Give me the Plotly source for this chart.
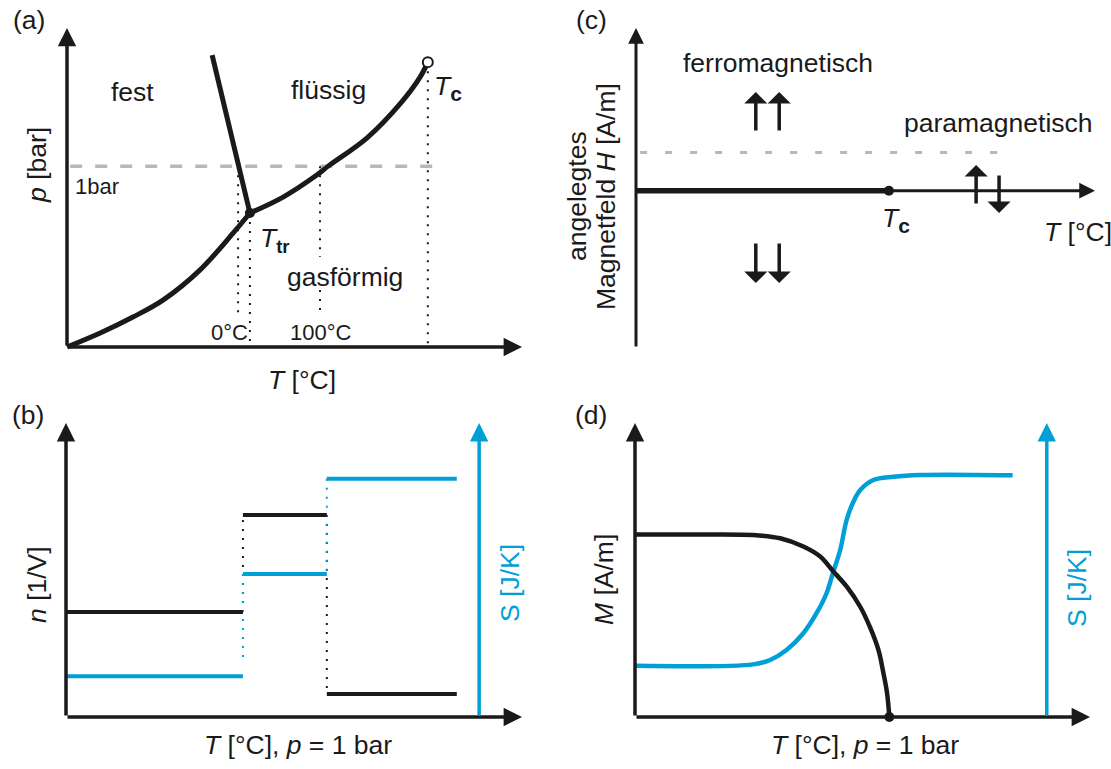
import plotly.graph_objects as go

W, H = 1111, 769
BLACK = "#1a1a1a"
BLUE = "#00A0D6"
GRAY = "#B8B8B8"
FONT = "Liberation Sans, Arial, sans-serif"

# ---------------- data (schematic units) ----------------
# (a) phase diagram
a_sub_T = [0, 7.3, 14.5, 21.1, 29.2, 36.5, 40.2]
a_sub_p = [0, 4.4, 9.4, 14.7, 24.1, 35.7, 42.0]
a_vap_T = [40.2, 47.5, 54.9, 57.4, 65.9, 73.2, 77.6, 79.3]
a_vap_p = [42.0, 47.0, 53.9, 56.7, 65.5, 76.2, 84.6, 89.3]
a_melt_T = [31.9, 40.2]
a_melt_p = [91.5, 42.0]
a_bar_T = [0.7, 83.1]
a_bar_p = 56.7
a_T0, a_Ttr, a_T100, a_Tc = 37.6, 40.2, 55.6, 79.3
a_ptr, a_pc = 42.0, 89.3

# (b) steps n and S
b_T_edges = [0, 38.8, 57.2, 85.7]
b_n = [35.7, 68.7, 7.8]
b_S = [13.9, 48.6, 81.0]
b_S_axis_T = 90.6

# (c) magnetic phase diagram
c_Tc = 55.1
c_H_dash = 23.4
c_dash_T = [0.9, 80.8]
c_ferro_T = [26.1, 31.2]
c_up = [36.1, 60.7]
c_down = [-31.6, -56.8]
c_para_up_T, c_para_up = 74.1, [-8.8, 15.8]
c_para_dn_T, c_para_dn = 79.1, [10.3, -13.7]

# (d) M(T) and S(T)
d_M_T = [0, 14.3, 26.0, 31.9, 37.0, 40.7, 43.6, 46.5, 49.5, 51.6, 53.5, 54.6, 55.4, 55.9]
d_M = [62.1, 62.1, 61.9, 60.8, 58.0, 54.6, 49.5, 44.4, 37.5, 30.7, 22.8, 14.9, 8.1, 0.0]
d_S_T = [0, 26.0, 29.7, 33.3, 37.0, 39.9, 42.1, 43.6, 45.1, 46.5, 48.0, 49.5, 52.4, 56.8, 62.6, 83.0]
d_S = [17.4, 17.9, 19.4, 22.8, 28.5, 35.3, 42.1, 49.5, 56.8, 67.0, 73.2, 77.2, 80.6, 81.7, 82.3, 82.2]
d_S_axis_T = 90.5

# ---------------- panel geometry (origin px, px per unit, ranges) ----------------
panels = {
    "a": dict(n="", ox=67, oy=347, sx=4.55, sy=3.19, xr=[-8, 108], yr=[-8, 108]),
    "b": dict(n="2", ox=66, oy=717, sx=4.56, sy=2.94, xr=[-8, 108], yr=[-8, 108]),
    "c": dict(n="3", ox=636, oy=190.7, sx=4.59, sy=1.627, xr=[-5, 103], yr=[-105, 108]),
    "d": dict(n="4", ox=635, oy=717, sx=4.55, sy=2.94, xr=[-5, 103], yr=[-8, 108]),
}

fig = go.Figure()
annotations = []


def P(px, py):
    return px / W, 1 - py / H


def line(pn, x, y, color=BLACK, width=4, dash=None, shape="linear"):
    n = panels[pn]["n"]
    fig.add_trace(go.Scatter(x=x, y=y, mode="lines", xaxis="x" + n, yaxis="y" + n,
                             line=dict(color=color, width=width, dash=dash, shape=shape),
                             hoverinfo="skip", cliponaxis=False))


def dot(pn, x, y, size=10, fill=BLACK, lw=0):
    n = panels[pn]["n"]
    fig.add_trace(go.Scatter(x=[x], y=[y], mode="markers", xaxis="x" + n, yaxis="y" + n,
                             marker=dict(size=size, color=fill, line=dict(color=BLACK, width=lw)),
                             hoverinfo="skip", cliponaxis=False))


def arrow(pn, x0, y0, x1, y1, color=BLACK, width=3.5, size=1.05, head=2):
    n = panels[pn]["n"]
    annotations.append(dict(x=x1, y=y1, ax=x0, ay=y0, xref="x" + n, yref="y" + n,
                            axref="x" + n, ayref="y" + n, text="", showarrow=True,
                            arrowhead=head, arrowsize=size, arrowwidth=width,
                            arrowcolor=color, standoff=0))


def label(text, px, py, size=26.5, color=BLACK, angle=0, xanchor="center"):
    x, y = P(px, py)
    annotations.append(dict(x=x, y=y, xref="paper", yref="paper", text=text, showarrow=False,
                            xanchor=xanchor, yanchor="middle", textangle=angle,
                            font=dict(family=FONT, size=size, color=color)))


DOT = "2px,7px"

# ---------------- (a) ----------------
line("a", a_bar_T, [a_bar_p, a_bar_p], GRAY, 3.5, "12px,13px")
line("a", [a_T0, a_T0], [a_bar_p, 10.7], BLACK, 2, DOT)
line("a", [a_Ttr, a_Ttr], [a_ptr, 0], BLACK, 2, DOT)
line("a", [a_T100, a_T100, None, a_T100, a_T100], [a_bar_p, 28.2, None, 17.9, 11.6], BLACK, 2, DOT)
line("a", [a_Tc, a_Tc], [a_pc, 0], BLACK, 2, DOT)
line("a", a_sub_T, a_sub_p, BLACK, 5, shape="spline")
line("a", a_vap_T, a_vap_p, BLACK, 5, shape="spline")
line("a", a_melt_T, a_melt_p, BLACK, 5)
dot("a", a_Ttr, a_ptr, 10)
dot("a", a_Tc, a_pc, 10, fill="white", lw=2)
arrow("a", 0, 0, 100, 0)
arrow("a", 0, 0, 0, 100)

label("(a)", 29, 20)
label("fest", 132, 92)
label("flüssig", 328, 90)
label("gasförmig", 345, 277)
label("1bar", 97, 186, 22)
label("0°C", 230, 332, 22)
label("100°C", 321, 332, 22)
label("<i>T</i><sub><b>tr</b></sub>", 258, 240, xanchor="left")
label("<i>T</i><sub><b><span style='font-size:21px'>c</span></b></sub>", 432, 88, xanchor="left")
label("<i>p</i> [bar]", 37, 165, angle=-90)
label("<i>T</i> [°C]", 302, 380)

# ---------------- (b) ----------------
nx, ny, sx_, sy_ = [], [], [], []
for i in range(3):
    nx += [b_T_edges[i], b_T_edges[i + 1], None]
    ny += [b_n[i], b_n[i], None]
    sx_ += [b_T_edges[i], b_T_edges[i + 1], None]
    sy_ += [b_S[i], b_S[i], None]
line("b", [b_T_edges[1], b_T_edges[1]], [b_n[0], b_n[1]], BLACK, 2, DOT)
line("b", [b_T_edges[2], b_T_edges[2]], [b_n[1], b_n[2] + 1.4], BLACK, 2, DOT)
line("b", [b_T_edges[1], b_T_edges[1]], [b_S[1], b_S[0] + 4.8], BLUE, 2, DOT)
line("b", [b_T_edges[2], b_T_edges[2]], [b_S[2], b_S[1]], BLUE, 2, DOT)
line("b", nx, ny, BLACK, 4)
line("b", sx_, sy_, BLUE, 4)
arrow("b", 0, 0, 100, 0)
arrow("b", 0, 0, 0, 100)
arrow("b", b_S_axis_T, 0, b_S_axis_T, 100, color=BLUE)

label("(b)", 28, 415)
label("<i>n</i> [1/V]", 37, 585, angle=-90)
label("S [J/K]", 510, 583, color=BLUE, angle=-90)
label("<i>T</i> [°C], <i>p</i> = 1 bar", 298, 745)

# ---------------- (c) ----------------
line("c", c_dash_T, [c_H_dash, c_H_dash], GRAY, 3, "7px,18px")
arrow("c", 0, 0, 100, 0, width=3)
arrow("c", 0, panels["c"]["yr"][0] + 8.3, 0, 100, width=3)
line("c", [0, c_Tc], [0, 0], BLACK, 5.5)
dot("c", c_Tc, 0, 10)
for t in c_ferro_T:
    arrow("c", t, c_up[0], t, c_up[1], width=3.5, size=1.1, head=1)
    arrow("c", t, c_down[0], t, c_down[1], width=3.5, size=1.1, head=1)
arrow("c", c_para_up_T, c_para_up[0], c_para_up_T, c_para_up[1], width=3.5, size=1.1, head=1)
arrow("c", c_para_dn_T, c_para_dn[0], c_para_dn_T, c_para_dn[1], width=3.5, size=1.1, head=1)

label("(c)", 591, 20)
label("ferromagnetisch", 778, 63)
label("paramagnetisch", 998, 123)
label("<i>T</i><sub><b><span style='font-size:21px'>c</span></b></sub>", 880, 220, xanchor="left")
label("<i>T</i> [°C]", 1078, 232)
label("angelegtes", 577, 196, angle=-90)
label("Magnetfeld <i>H</i> [A/m]", 606, 197, angle=-90)

# ---------------- (d) ----------------
line("d", d_S_T, d_S, BLUE, 4.5, shape="spline")
line("d", d_M_T, d_M, BLACK, 4.5, shape="spline")
arrow("d", 0, 0, 100, 0)
arrow("d", 0, 0, 0, 100)
arrow("d", d_S_axis_T, 0, d_S_axis_T, 100, color=BLUE)
dot("d", d_M_T[-1], 0, 10)

label("(d)", 591, 415)
label("<i>M</i> [A/m]", 604, 580, angle=-90)
label("S [J/K]", 1077, 588, color=BLUE, angle=-90)
label("<i>T</i> [°C], <i>p</i> = 1 bar", 865, 745)

# ---------------- layout ----------------
layout = dict(width=W, height=H, margin=dict(l=0, r=0, t=0, b=0), showlegend=False,
              paper_bgcolor="white", plot_bgcolor="white", annotations=annotations,
              font=dict(family=FONT))
for k, p in panels.items():
    n = p["n"]
    dx = [(p["ox"] + p["xr"][0] * p["sx"]) / W, (p["ox"] + p["xr"][1] * p["sx"]) / W]
    dy = [1 - (p["oy"] - p["yr"][0] * p["sy"]) / H, 1 - (p["oy"] - p["yr"][1] * p["sy"]) / H]
    layout["xaxis" + n] = dict(domain=dx, range=p["xr"], visible=False, fixedrange=True,
                               anchor="y" + n)
    layout["yaxis" + n] = dict(domain=dy, range=p["yr"], visible=False, fixedrange=True,
                               anchor="x" + n)
fig.update_layout(**layout)
fig.write_html("out.html")
